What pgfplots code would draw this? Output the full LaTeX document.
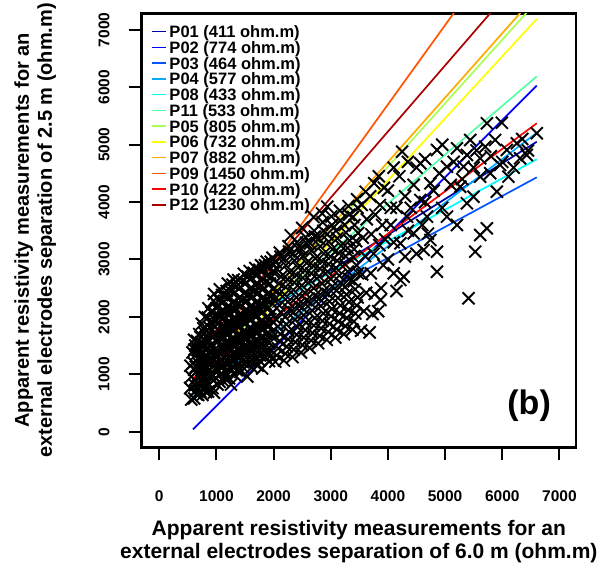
\documentclass[border=0pt]{standalone}
\usepackage{fontspec}
\setmainfont{Liberation Sans}
\usepackage{pgfplots}
\pgfplotsset{compat=1.18}
\usepackage{xcolor}
% jet(12) palette
\definecolor{cP01}{HTML}{0000AA}
\definecolor{cP02}{HTML}{0000FF}
\definecolor{cP03}{HTML}{0055FF}
\definecolor{cP04}{HTML}{00AAFF}
\definecolor{cP08}{HTML}{00FFFF}
\definecolor{cP11}{HTML}{55FFAA}
\definecolor{cP05}{HTML}{AAFF55}
\definecolor{cP06}{HTML}{FFFF00}
\definecolor{cP07}{HTML}{FFAA00}
\definecolor{cP09}{HTML}{FF5500}
\definecolor{cP10}{HTML}{FF0000}
\definecolor{cP12}{HTML}{AA0000}
% one legend row: colour, row index (from 0), text
\newcommand{\legrow}[3]{%
  \fill[#1] ([xshift=10pt, yshift={-18.4pt-15.75pt*#2-0.8pt}]rel axis cs:0,1) rectangle ++(14.3pt,1.6pt);
  \node[anchor=base west, inner sep=0pt, font=\bfseries\fontsize{16.5}{16.5}\selectfont]
    at ([xshift=27.6pt, yshift={-24.3pt-15.75pt*#2}]rel axis cs:0,1) {#3};
}

\begin{document}
\begin{tikzpicture}
\begin{axis}[
    scale only axis,
    width=434.3pt,
    height=434pt,
    xmin=-307, xmax=7290,
    ymin=-272, ymax=7289,
    xtick={0,1000,...,7000},
    ytick={0,1000,...,7000},
    xtick pos=lower, ytick pos=left,
    tick align=outside,
    major tick length=13pt,
    every tick/.style={black, line width=2pt},
    axis line style={line width=2.5pt},
    /pgf/number format/assume math mode=true,
    /pgf/number format/1000 sep={},
    ticklabel style={font=\bfseries\fontsize{15.5}{16}\selectfont, inner sep=0pt},
    xticklabel style={anchor=north, yshift=-30pt},
    yticklabel style={rotate=90, anchor=south, yshift=19pt},
    xlabel={Apparent resistivity measurements for an\\external electrodes separation of 6.0 m (ohm.m)},
    ylabel={Apparent resistivity measurements for an\\external electrodes separation of 2.5 m (ohm.m)},
    xlabel style={at={(axis description cs:0.5,-0.168)}, anchor=north, align=center, inner sep=0pt,
        font=\bfseries\fontsize{21}{22.5}\selectfont},
    ylabel style={at={(axis description cs:-0.197,0.5)}, anchor=south, align=center, inner sep=0pt,
        font=\bfseries\fontsize{20}{23}\selectfont},
]
% measurements
\addplot[only marks, mark=x, mark size=8.5pt, mark options={black, line width=1.9pt}] coordinates {
(560,560) (540,760) (560,960) (545,1150) (580,1380) (610,1600)
(610,580) (640,720) (620,900) (660,1050) (600,1200) (650,1350) (630,1500) (680,640) (690,820) (700,1180) (670,1420) (610,1080)
(655,650) (625,810) (685,980) (640,1130) (690,1280) (615,1430) (660,1580) (700,1700)
(720,700) (740,880) (760,1000) (730,1150) (780,1300) (750,1480) (720,1650) (770,1800) (790,760) (800,1580)
(755,640) (725,790) (785,950) (745,1080) (715,1230) (765,1390) (735,1560) (790,1720) (745,1880) (800,2000)
(820,690) (840,850) (860,1050) (830,1200) (880,1380) (850,1550) (870,1720) (890,1900) (910,2080) (900,940)
(855,700) (825,770) (875,960) (845,1120) (815,1290) (865,1460) (835,1630) (885,1810) (850,1990) (860,2150)
(930,760) (950,900) (980,1100) (940,1260) (960,1420) (990,1600) (930,1780) (970,1950) (1000,2150) (950,2280)
(955,680) (925,1000) (975,1180) (945,1340) (915,1510) (965,1690) (935,1870) (985,2050) (960,2400)
(1020,820) (1050,980) (1070,1150) (1030,1320) (1080,1480) (1040,1650) (1090,1820) (1060,2000) (1020,2200) (1100,2380)
(1055,870) (1025,1060) (1075,1240) (1045,1400) (1015,1560) (1065,1740) (1035,1910) (1085,2100) (1050,2290) (1060,2480)
(1120,880) (1150,1050) (1180,1240) (1130,1400) (1170,1570) (1140,1730) (1190,1900) (1160,2080) (1120,2260) (1180,2450)
(1155,950) (1125,1140) (1175,1320) (1145,1490) (1115,1650) (1165,1820) (1135,1990) (1185,2170) (1150,2360) (1200,2580)
(1220,930) (1250,1100) (1280,1280) (1230,1450) (1270,1620) (1240,1800) (1290,1970) (1260,2150) (1220,2350) (1280,2560)
(1255,820) (1225,1190) (1275,1360) (1245,1540) (1215,1710) (1265,1890) (1235,2060) (1285,2250) (1250,2450) (1300,2650)
(1320,990) (1350,1160) (1380,1330) (1330,1500) (1370,1680) (1340,1860) (1390,2030) (1360,2220) (1320,2420) (1380,2640)
(1355,1070) (1325,1250) (1375,1420) (1345,1590) (1315,1770) (1365,1950) (1335,2120) (1385,2320) (1350,2530)
(1420,1040) (1450,1220) (1480,1400) (1430,1570) (1470,1750) (1440,1930) (1490,2100) (1460,2300) (1420,2520) (1480,2750)
(1455,1130) (1425,1310) (1475,1490) (1445,1660) (1415,1840) (1465,2020) (1435,2200) (1485,2410) (1450,2630)
(1540,960) (1550,1260) (1580,1450) (1530,1620) (1570,1800) (1540,1990) (1590,2180) (1560,2380) (1520,2600) (1580,2800)
(1555,1170) (1525,1360) (1575,1540) (1545,1710) (1515,1890) (1565,2090) (1535,2280) (1585,2490) (1550,2700)
(1620,1120) (1650,1300) (1680,1500) (1630,1680) (1670,1860) (1640,2050) (1690,2250) (1660,2450) (1620,2680) (1680,2850)
(1655,1210) (1625,1400) (1675,1590) (1645,1770) (1615,1960) (1665,2150) (1635,2350) (1685,2560) (1650,2770)
(1720,1150) (1750,1340) (1780,1540) (1730,1730) (1770,1920) (1740,2120) (1790,2320) (1760,2520) (1720,2740) (1780,2900)
(1755,1240) (1725,1440) (1775,1640) (1745,1830) (1715,2020) (1765,2220) (1735,2420) (1785,2630) (1750,2820)
(1800,1100) (1850,1390) (1880,1600) (1830,1790) (1870,1990) (1840,2190) (1890,2400) (1860,2610) (1820,2820) (1880,2960)
(1855,1290) (1825,1490) (1875,1700) (1845,1890) (1815,2090) (1865,2300) (1835,2500) (1885,2720) (1850,2900)
(1920,1230) (1950,1430) (1980,1650) (1930,1850) (1970,2060) (1940,2270) (1990,2480) (1960,2690) (1920,2880) (1980,3030)
(1955,1330) (1925,1540) (1975,1750) (1945,1960) (1915,2160) (1965,2370) (1935,2580) (1985,2790) (1950,2960)
(2030,1220) (2080,1450) (2120,1700) (2050,1950) (2100,2200) (2060,2450) (2130,2700) (2040,2950) (2110,3120)
(2055,1330) (2105,1580) (2075,1830) (2125,2080) (2045,2330) (2095,2580) (2065,2830) (2120,3050)
(2180,1240) (2230,1480) (2270,1740) (2200,2000) (2250,2260) (2210,2520) (2280,2780) (2190,3020) (2260,3230)
(2205,1360) (2255,1610) (2225,1870) (2275,2130) (2195,2390) (2245,2650) (2215,2900) (2270,3140) (2300,3420)
(2330,1300) (2380,1560) (2420,1820) (2350,2080) (2400,2340) (2360,2600) (2430,2860) (2340,3100) (2410,3300)
(2355,1430) (2405,1690) (2375,1950) (2425,2210) (2345,2470) (2395,2730) (2365,2980) (2420,3200)
(2480,1380) (2530,1640) (2570,1900) (2500,2160) (2550,2420) (2510,2680) (2580,2940) (2490,3180) (2560,3390)
(2505,1510) (2555,1770) (2525,2030) (2575,2290) (2495,2550) (2545,2810) (2515,3060) (2570,3290) (2500,3550)
(2630,1460) (2680,1720) (2720,1980) (2650,2240) (2700,2500) (2660,2760) (2730,3020) (2640,3280) (2710,3500)
(2655,1590) (2705,1850) (2675,2110) (2725,2370) (2645,2630) (2695,2890) (2665,3150) (2720,3400) (2700,3740)
(2780,1540) (2830,1800) (2870,2060) (2800,2320) (2850,2580) (2810,2840) (2880,3100) (2790,3360) (2860,3650)
(2805,1670) (2855,1930) (2825,2190) (2875,2450) (2795,2710) (2845,2970) (2815,3230) (2870,3500) (2850,3800)
(2930,1600) (2980,1880) (3020,2140) (2950,2400) (3000,2660) (2960,2920) (3030,3180) (2940,3440) (3010,3750)
(2955,1740) (3005,2010) (2975,2270) (3025,2530) (2945,2790) (2995,3050) (2965,3310) (3020,3600) (2940,3920)
(3080,1640) (3130,1920) (3170,2200) (3100,2460) (3150,2720) (3110,2980) (3180,3240) (3090,3500) (3160,3850)
(3105,1780) (3155,2060) (3125,2330) (3175,2590) (3095,2850) (3145,3110) (3115,3370) (3170,3680)
(3230,1700) (3280,1980) (3320,2260) (3250,2520) (3300,2790) (3260,3060) (3330,3330) (3240,3600) (3310,3930)
(3255,1840) (3305,2120) (3275,2390) (3325,2660) (3245,2920) (3295,3200) (3265,3470) (3320,3780)
(3380,1780) (3430,2060) (3470,2340) (3400,2620) (3450,2900) (3410,3180) (3480,3460) (3390,3740) (3460,4050)
(3405,1920) (3455,2200) (3425,2480) (3475,2760) (3395,3040) (3445,3320) (3415,3600) (3470,3900)
(3530,1760) (3580,2100) (3620,2420) (3550,2740) (3600,3060) (3560,3380) (3630,3700) (3540,3950) (3610,4180)
(3680,1730) (3730,2050) (3770,2400) (3700,2760) (3750,3100) (3710,3440) (3780,3780) (3690,4100) (3760,4330)
(3830,2100) (3880,2500) (3920,2900) (3850,3250) (3900,3600) (3860,3950) (3930,4250) (3840,4450)
(4248,4878) (4858,4908) (5440,5082) (5731,5373) (5993,5383) (6604,5199) (5702,4965) (6255,5024) (6312,4763)
(5963,4646) (6108,4443) (5906,4181) (5497,4094) (5731,3543) (5614,3427) (5527,3136) (4858,2787) (5410,2324)
(5208,3601) (4858,3136) (4625,3166) (4276,2700) (3869,2294) (4101,2760) (4742,3340) (5033,3746) (5382,3979)
(5265,4268) (5614,4443) (5033,4617) (4567,4676) (4742,4327) (4567,4037) (4335,3746) (4450,3456) (4218,3282)
(4684,3746) (5323,4617) (5789,4502) (5614,4763) (5382,4820) (6080,4908) (5876,5082) (6429,4820) (5208,4937)
(4218,2643) (4000,3000) (4100,3300) (4050,3600) (4150,3900) (4000,4200) (4200,4450) (4300,4100) (4350,3500)
(4400,3900) (4450,4300) (4500,4600) (4600,3600) (4650,4000) (4800,4200) (4900,4500) (4950,3900) (5100,4300)
(5150,4700) (5300,4400) (5500,4600) (5550,4900) (5800,4800) (6000,4700) (6200,4600) (6450,4900) (6350,5100)
(4150,2450) (4300,3050) (4500,3100) (4700,3450) (3950,3350) (4050,3900) (4100,4600) (4350,4700) (4650,4750)
(4950,5000)
};
% fitted lines per profile
\addplot[cP01, line width=1.7pt, no marks] coordinates {(590,1307) (6604,5052)};
\addplot[cP02, line width=1.7pt, no marks] coordinates {(590,40) (6604,6030)};
\addplot[cP03, line width=1.7pt, no marks] coordinates {(590,1190) (6604,4432)};
\addplot[cP04, line width=1.7pt, no marks] coordinates {(590,639) (6604,5209)};
\addplot[cP08, line width=1.7pt, no marks] coordinates {(590,1453) (6604,4746)};
\addplot[cP11, line width=1.7pt, no marks] coordinates {(590,1075) (6604,6190)};
\addplot[cP05, line width=1.7pt, no marks] coordinates {(590,840) (6604,7497)};
\addplot[cP06, line width=1.7pt, no marks] coordinates {(590,697) (6604,7190)};
\addplot[cP07, line width=1.7pt, no marks] coordinates {(590,871) (6604,7619)};
\addplot[cP09, line width=1.7pt, no marks] coordinates {(590,988) (6604,9299)};
\addplot[cP10, line width=1.7pt, no marks] coordinates {(590,930) (6604,5373)};
\addplot[cP12, line width=1.7pt, no marks] coordinates {(590,1300) (6604,8228)};
% legend
\legrow{cP01}{0}{P01 (411 ohm.m)}
\legrow{cP02}{1}{P02 (774 ohm.m)}
\legrow{cP03}{2}{P03 (464 ohm.m)}
\legrow{cP04}{3}{P04 (577 ohm.m)}
\legrow{cP08}{4}{P08 (433 ohm.m)}
\legrow{cP11}{5}{P11 (533 ohm.m)}
\legrow{cP05}{6}{P05 (805 ohm.m)}
\legrow{cP06}{7}{P06 (732 ohm.m)}
\legrow{cP07}{8}{P07 (882 ohm.m)}
\legrow{cP09}{9}{P09 (1450 ohm.m)}
\legrow{cP10}{10}{P10 (422 ohm.m)}
\legrow{cP12}{11}{P12 (1230 ohm.m)}
\node[font=\bfseries\fontsize{34}{34}\selectfont] at (axis cs:6470,448) {(b)};
\end{axis}
\pgfresetboundingbox
\path[use as bounding box] ([shift={(-141.7pt,-121.7pt)}]current axis.south west) rectangle ([shift={(28pt,13.3pt)}]current axis.north east);
\end{tikzpicture}
\end{document}
